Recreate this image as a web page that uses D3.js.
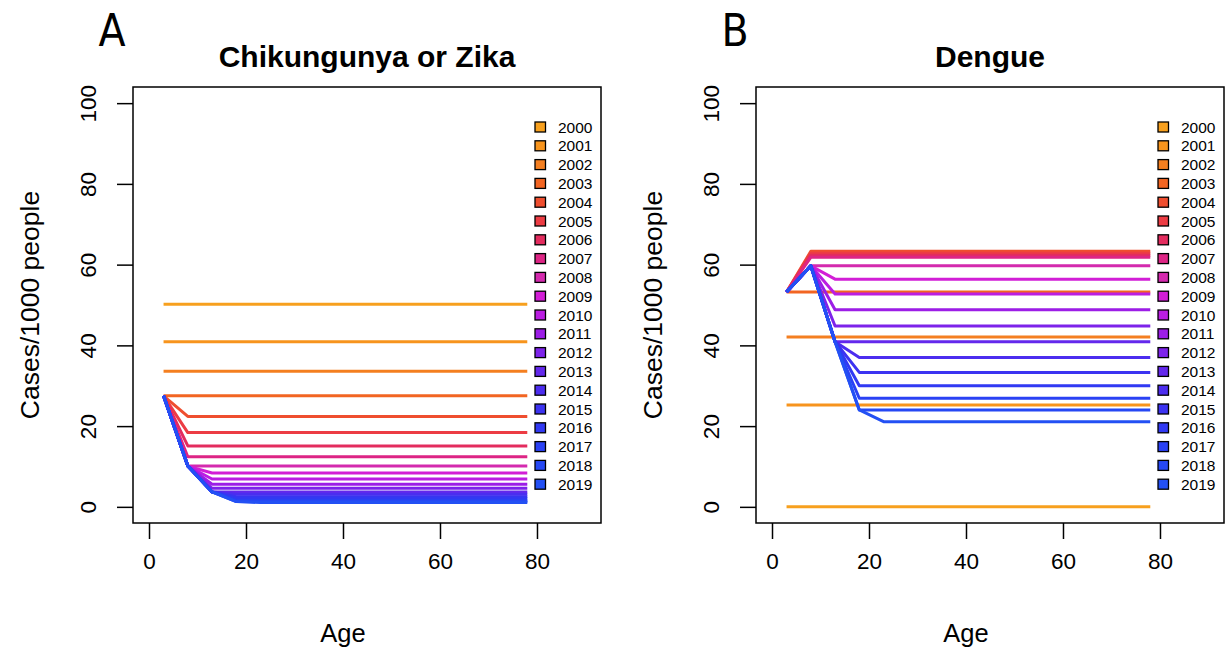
<!DOCTYPE html>
<html>
<head>
<meta charset="utf-8">
<script src="https://cdn.jsdelivr.net/npm/d3@7"></script>
<style>
  html, body { margin: 0; padding: 0; background: #fff; }
  svg { display: block; font-family: "Liberation Sans", Arial, Helvetica, sans-serif; }
</style>
</head>
<body>
<svg id="chart" width="1231" height="649"></svg>
<script>
// Age-group midpoints (years) on the x axis
const ages = [3, 8, 13, 18, 23, 28, 33, 38, 43, 48, 53, 58, 63, 68, 73, 78];
const years = [2000, 2001, 2002, 2003, 2004, 2005, 2006, 2007, 2008, 2009,
               2010, 2011, 2012, 2013, 2014, 2015, 2016, 2017, 2018, 2019];

// Cases per 1000 people, one row per year, one value per age group
const chikZikaRates = [
  [50.2, 50.2, 50.2, 50.2, 50.2, 50.2, 50.2, 50.2, 50.2, 50.2, 50.2, 50.2, 50.2, 50.2, 50.2, 50.2],
  [40.9, 40.9, 40.9, 40.9, 40.9, 40.9, 40.9, 40.9, 40.9, 40.9, 40.9, 40.9, 40.9, 40.9, 40.9, 40.9],
  [33.6, 33.6, 33.6, 33.6, 33.6, 33.6, 33.6, 33.6, 33.6, 33.6, 33.6, 33.6, 33.6, 33.6, 33.6, 33.6],
  [27.5, 27.5, 27.5, 27.5, 27.5, 27.5, 27.5, 27.5, 27.5, 27.5, 27.5, 27.5, 27.5, 27.5, 27.5, 27.5],
  [27.5, 22.4, 22.4, 22.4, 22.4, 22.4, 22.4, 22.4, 22.4, 22.4, 22.4, 22.4, 22.4, 22.4, 22.4, 22.4],
  [27.5, 18.4, 18.4, 18.4, 18.4, 18.4, 18.4, 18.4, 18.4, 18.4, 18.4, 18.4, 18.4, 18.4, 18.4, 18.4],
  [27.5, 15.1, 15.1, 15.1, 15.1, 15.1, 15.1, 15.1, 15.1, 15.1, 15.1, 15.1, 15.1, 15.1, 15.1, 15.1],
  [27.5, 12.4, 12.4, 12.4, 12.4, 12.4, 12.4, 12.4, 12.4, 12.4, 12.4, 12.4, 12.4, 12.4, 12.4, 12.4],
  [27.5, 10.1, 10.1, 10.1, 10.1, 10.1, 10.1, 10.1, 10.1, 10.1, 10.1, 10.1, 10.1, 10.1, 10.1, 10.1],
  [27.5, 10.1, 8.4, 8.4, 8.4, 8.4, 8.4, 8.4, 8.4, 8.4, 8.4, 8.4, 8.4, 8.4, 8.4, 8.4],
  [27.5, 10.1, 6.9, 6.9, 6.9, 6.9, 6.9, 6.9, 6.9, 6.9, 6.9, 6.9, 6.9, 6.9, 6.9, 6.9],
  [27.5, 10.1, 5.6, 5.6, 5.6, 5.6, 5.6, 5.6, 5.6, 5.6, 5.6, 5.6, 5.6, 5.6, 5.6, 5.6],
  [27.5, 10.1, 4.6, 4.6, 4.6, 4.6, 4.6, 4.6, 4.6, 4.6, 4.6, 4.6, 4.6, 4.6, 4.6, 4.6],
  [27.5, 10.1, 3.7, 3.7, 3.7, 3.7, 3.7, 3.7, 3.7, 3.7, 3.7, 3.7, 3.7, 3.7, 3.7, 3.7],
  [27.5, 10.1, 3.7, 3.1, 3.1, 3.1, 3.1, 3.1, 3.1, 3.1, 3.1, 3.1, 3.1, 3.1, 3.1, 3.1],
  [27.5, 10.1, 3.7, 2.5, 2.5, 2.5, 2.5, 2.5, 2.5, 2.5, 2.5, 2.5, 2.5, 2.5, 2.5, 2.5],
  [27.5, 10.1, 3.7, 2.1, 2.1, 2.1, 2.1, 2.1, 2.1, 2.1, 2.1, 2.1, 2.1, 2.1, 2.1, 2.1],
  [27.5, 10.1, 3.7, 1.6, 1.6, 1.6, 1.6, 1.6, 1.6, 1.6, 1.6, 1.6, 1.6, 1.6, 1.6, 1.6],
  [27.5, 10.1, 3.7, 1.3, 1.3, 1.3, 1.3, 1.3, 1.3, 1.3, 1.3, 1.3, 1.3, 1.3, 1.3, 1.3],
  [27.5, 10.1, 3.7, 1.3, 1.05, 1.05, 1.05, 1.05, 1.05, 1.05, 1.05, 1.05, 1.05, 1.05, 1.05, 1.05]
];

const dengueRates = [
  [0, 0, 0, 0, 0, 0, 0, 0, 0, 0, 0, 0, 0, 0, 0, 0],
  [25.2, 25.2, 25.2, 25.2, 25.2, 25.2, 25.2, 25.2, 25.2, 25.2, 25.2, 25.2, 25.2, 25.2, 25.2, 25.2],
  [42.1, 42.1, 42.1, 42.1, 42.1, 42.1, 42.1, 42.1, 42.1, 42.1, 42.1, 42.1, 42.1, 42.1, 42.1, 42.1],
  [53.2, 53.2, 53.2, 53.2, 53.2, 53.2, 53.2, 53.2, 53.2, 53.2, 53.2, 53.2, 53.2, 53.2, 53.2, 53.2],
  [53.2, 63.3, 63.3, 63.3, 63.3, 63.3, 63.3, 63.3, 63.3, 63.3, 63.3, 63.3, 63.3, 63.3, 63.3, 63.3],
  [53.2, 62.8, 62.8, 62.8, 62.8, 62.8, 62.8, 62.8, 62.8, 62.8, 62.8, 62.8, 62.8, 62.8, 62.8, 62.8],
  [53.2, 62.3, 62.3, 62.3, 62.3, 62.3, 62.3, 62.3, 62.3, 62.3, 62.3, 62.3, 62.3, 62.3, 62.3, 62.3],
  [53.2, 61.8, 61.8, 61.8, 61.8, 61.8, 61.8, 61.8, 61.8, 61.8, 61.8, 61.8, 61.8, 61.8, 61.8, 61.8],
  [53.2, 59.7, 59.7, 59.7, 59.7, 59.7, 59.7, 59.7, 59.7, 59.7, 59.7, 59.7, 59.7, 59.7, 59.7, 59.7],
  [53.2, 59.7, 56.4, 56.4, 56.4, 56.4, 56.4, 56.4, 56.4, 56.4, 56.4, 56.4, 56.4, 56.4, 56.4, 56.4],
  [53.2, 59.7, 52.7, 52.7, 52.7, 52.7, 52.7, 52.7, 52.7, 52.7, 52.7, 52.7, 52.7, 52.7, 52.7, 52.7],
  [53.2, 59.7, 48.8, 48.8, 48.8, 48.8, 48.8, 48.8, 48.8, 48.8, 48.8, 48.8, 48.8, 48.8, 48.8, 48.8],
  [53.2, 59.7, 44.8, 44.8, 44.8, 44.8, 44.8, 44.8, 44.8, 44.8, 44.8, 44.8, 44.8, 44.8, 44.8, 44.8],
  [53.2, 59.7, 40.9, 40.9, 40.9, 40.9, 40.9, 40.9, 40.9, 40.9, 40.9, 40.9, 40.9, 40.9, 40.9, 40.9],
  [53.2, 59.7, 40.9, 37.0, 37.0, 37.0, 37.0, 37.0, 37.0, 37.0, 37.0, 37.0, 37.0, 37.0, 37.0, 37.0],
  [53.2, 59.7, 40.9, 33.3, 33.3, 33.3, 33.3, 33.3, 33.3, 33.3, 33.3, 33.3, 33.3, 33.3, 33.3, 33.3],
  [53.2, 59.7, 40.9, 30.0, 30.0, 30.0, 30.0, 30.0, 30.0, 30.0, 30.0, 30.0, 30.0, 30.0, 30.0, 30.0],
  [53.2, 59.7, 40.9, 26.9, 26.9, 26.9, 26.9, 26.9, 26.9, 26.9, 26.9, 26.9, 26.9, 26.9, 26.9, 26.9],
  [53.2, 59.7, 40.9, 24.0, 24.0, 24.0, 24.0, 24.0, 24.0, 24.0, 24.0, 24.0, 24.0, 24.0, 24.0, 24.0],
  [53.2, 59.7, 40.9, 24.0, 21.1, 21.1, 21.1, 21.1, 21.1, 21.1, 21.1, 21.1, 21.1, 21.1, 21.1, 21.1]
];

const xTicks = [0, 20, 40, 60, 80];
const yTicks = [0, 20, 40, 60, 80, 100];

// Year colours, orange through magenta to blue
const yearColors = [
  "#F7A01E", "#F7941D", "#F47F20", "#F26522", "#EF4E2F",
  "#EC3C44", "#E32C5E", "#DD2585", "#D42AAE", "#D21ED6",
  "#BB1DE2", "#9C1DE6", "#7D23EA", "#6328EC", "#4C2DEF",
  "#3C33F1", "#3139F3", "#2A41F4", "#2648F4", "#2350F4"
];

const svg = d3.select("#chart");

const panels = [
  { letter: "A", title: "Chikungunya or Zika", rates: chikZikaRates, left: 133, right: 601 },
  { letter: "B", title: "Dengue", rates: dengueRates, left: 756, right: 1224 }
];

const boxTop = 87, boxBottom = 523;

panels.forEach(p => {
  const g = svg.append("g");
  const x = d3.scaleLinear().domain([-3.3, 93.2]).range([p.left, p.right]);
  const y = d3.scaleLinear().domain([-4, 104]).range([boxBottom, boxTop]);
  const cx = (p.left + p.right) / 2;

  // one line per year, drawn oldest first
  const line = d3.line().x((d, i) => x(ages[i])).y(d => y(d));
  g.append("g").selectAll("path")
    .data(p.rates)
    .join("path")
    .attr("d", line)
    .attr("fill", "none")
    .attr("stroke", (d, i) => yearColors[i])
    .attr("stroke-width", 3)
    .attr("stroke-linejoin", "round")
    .attr("stroke-linecap", "butt");

  // plot frame
  g.append("rect")
    .attr("x", p.left).attr("y", boxTop)
    .attr("width", p.right - p.left).attr("height", boxBottom - boxTop)
    .attr("fill", "none").attr("stroke", "#000").attr("stroke-width", 1.5);

  // x axis
  const xAxis = d3.axisBottom(x).tickValues(xTicks).tickSize(16).tickPadding(14).tickFormat(d3.format("d"));
  const xa = g.append("g").attr("transform", `translate(0,${boxBottom})`).call(xAxis);
  xa.select(".domain").remove();
  xa.selectAll(".tick line").attr("stroke", "#000").attr("stroke-width", 1.5);
  xa.selectAll(".tick text").attr("font-size", 22.5).attr("fill", "#000")
    .attr("font-family", "Liberation Sans, Arial, sans-serif");

  // y axis, labels turned parallel to the axis
  const yAxis = d3.axisLeft(y).tickValues(yTicks).tickSize(16).tickFormat(d3.format("d"));
  const ya = g.append("g").attr("transform", `translate(${p.left},0)`).call(yAxis);
  ya.select(".domain").remove();
  ya.selectAll(".tick line").attr("stroke", "#000").attr("stroke-width", 1.5);
  ya.selectAll(".tick text")
    .attr("font-size", 22.5).attr("fill", "#000")
    .attr("font-family", "Liberation Sans, Arial, sans-serif")
    .attr("x", null).attr("dy", null)
    .attr("text-anchor", "middle")
    .attr("transform", "translate(-37,0) rotate(-90)");

  // axis titles
  g.append("text")
    .attr("x", x(40)).attr("y", 642)
    .attr("text-anchor", "middle").attr("font-size", 25.5).text("Age");
  g.append("text")
    .attr("transform", `translate(${p.left - 94},${(boxTop + boxBottom) / 2}) rotate(-90)`)
    .attr("text-anchor", "middle").attr("font-size", 26.5).text("Cases/1000 people");

  // panel title
  g.append("text")
    .attr("x", cx).attr("y", 67)
    .attr("text-anchor", "middle").attr("font-size", 30).attr("font-weight", "bold")
    .text(p.title);

  // panel letter
  g.append("text")
    .attr("x", p.left - 21).attr("y", 46)
    .attr("text-anchor", "middle").attr("font-size", 44)
    .attr("font-family", "Liberation Sans Narrow, DejaVu Sans Condensed, sans-serif")
    .text(p.letter);

  // legend
  const leg = g.append("g");
  const rowY = i => 127 + i * 18.8;
  leg.selectAll("rect")
    .data(years)
    .join("rect")
    .attr("x", p.right - 66).attr("y", (d, i) => rowY(i) - 5)
    .attr("width", 10.5).attr("height", 10)
    .attr("fill", (d, i) => yearColors[i])
    .attr("stroke", "#000").attr("stroke-width", 1.3);
  leg.selectAll("text")
    .data(years)
    .join("text")
    .attr("x", p.right - 43).attr("y", (d, i) => rowY(i) + 5.5)
    .attr("font-size", 15.5).attr("fill", "#000")
    .text(d => d);
});
</script>
</body>
</html>
